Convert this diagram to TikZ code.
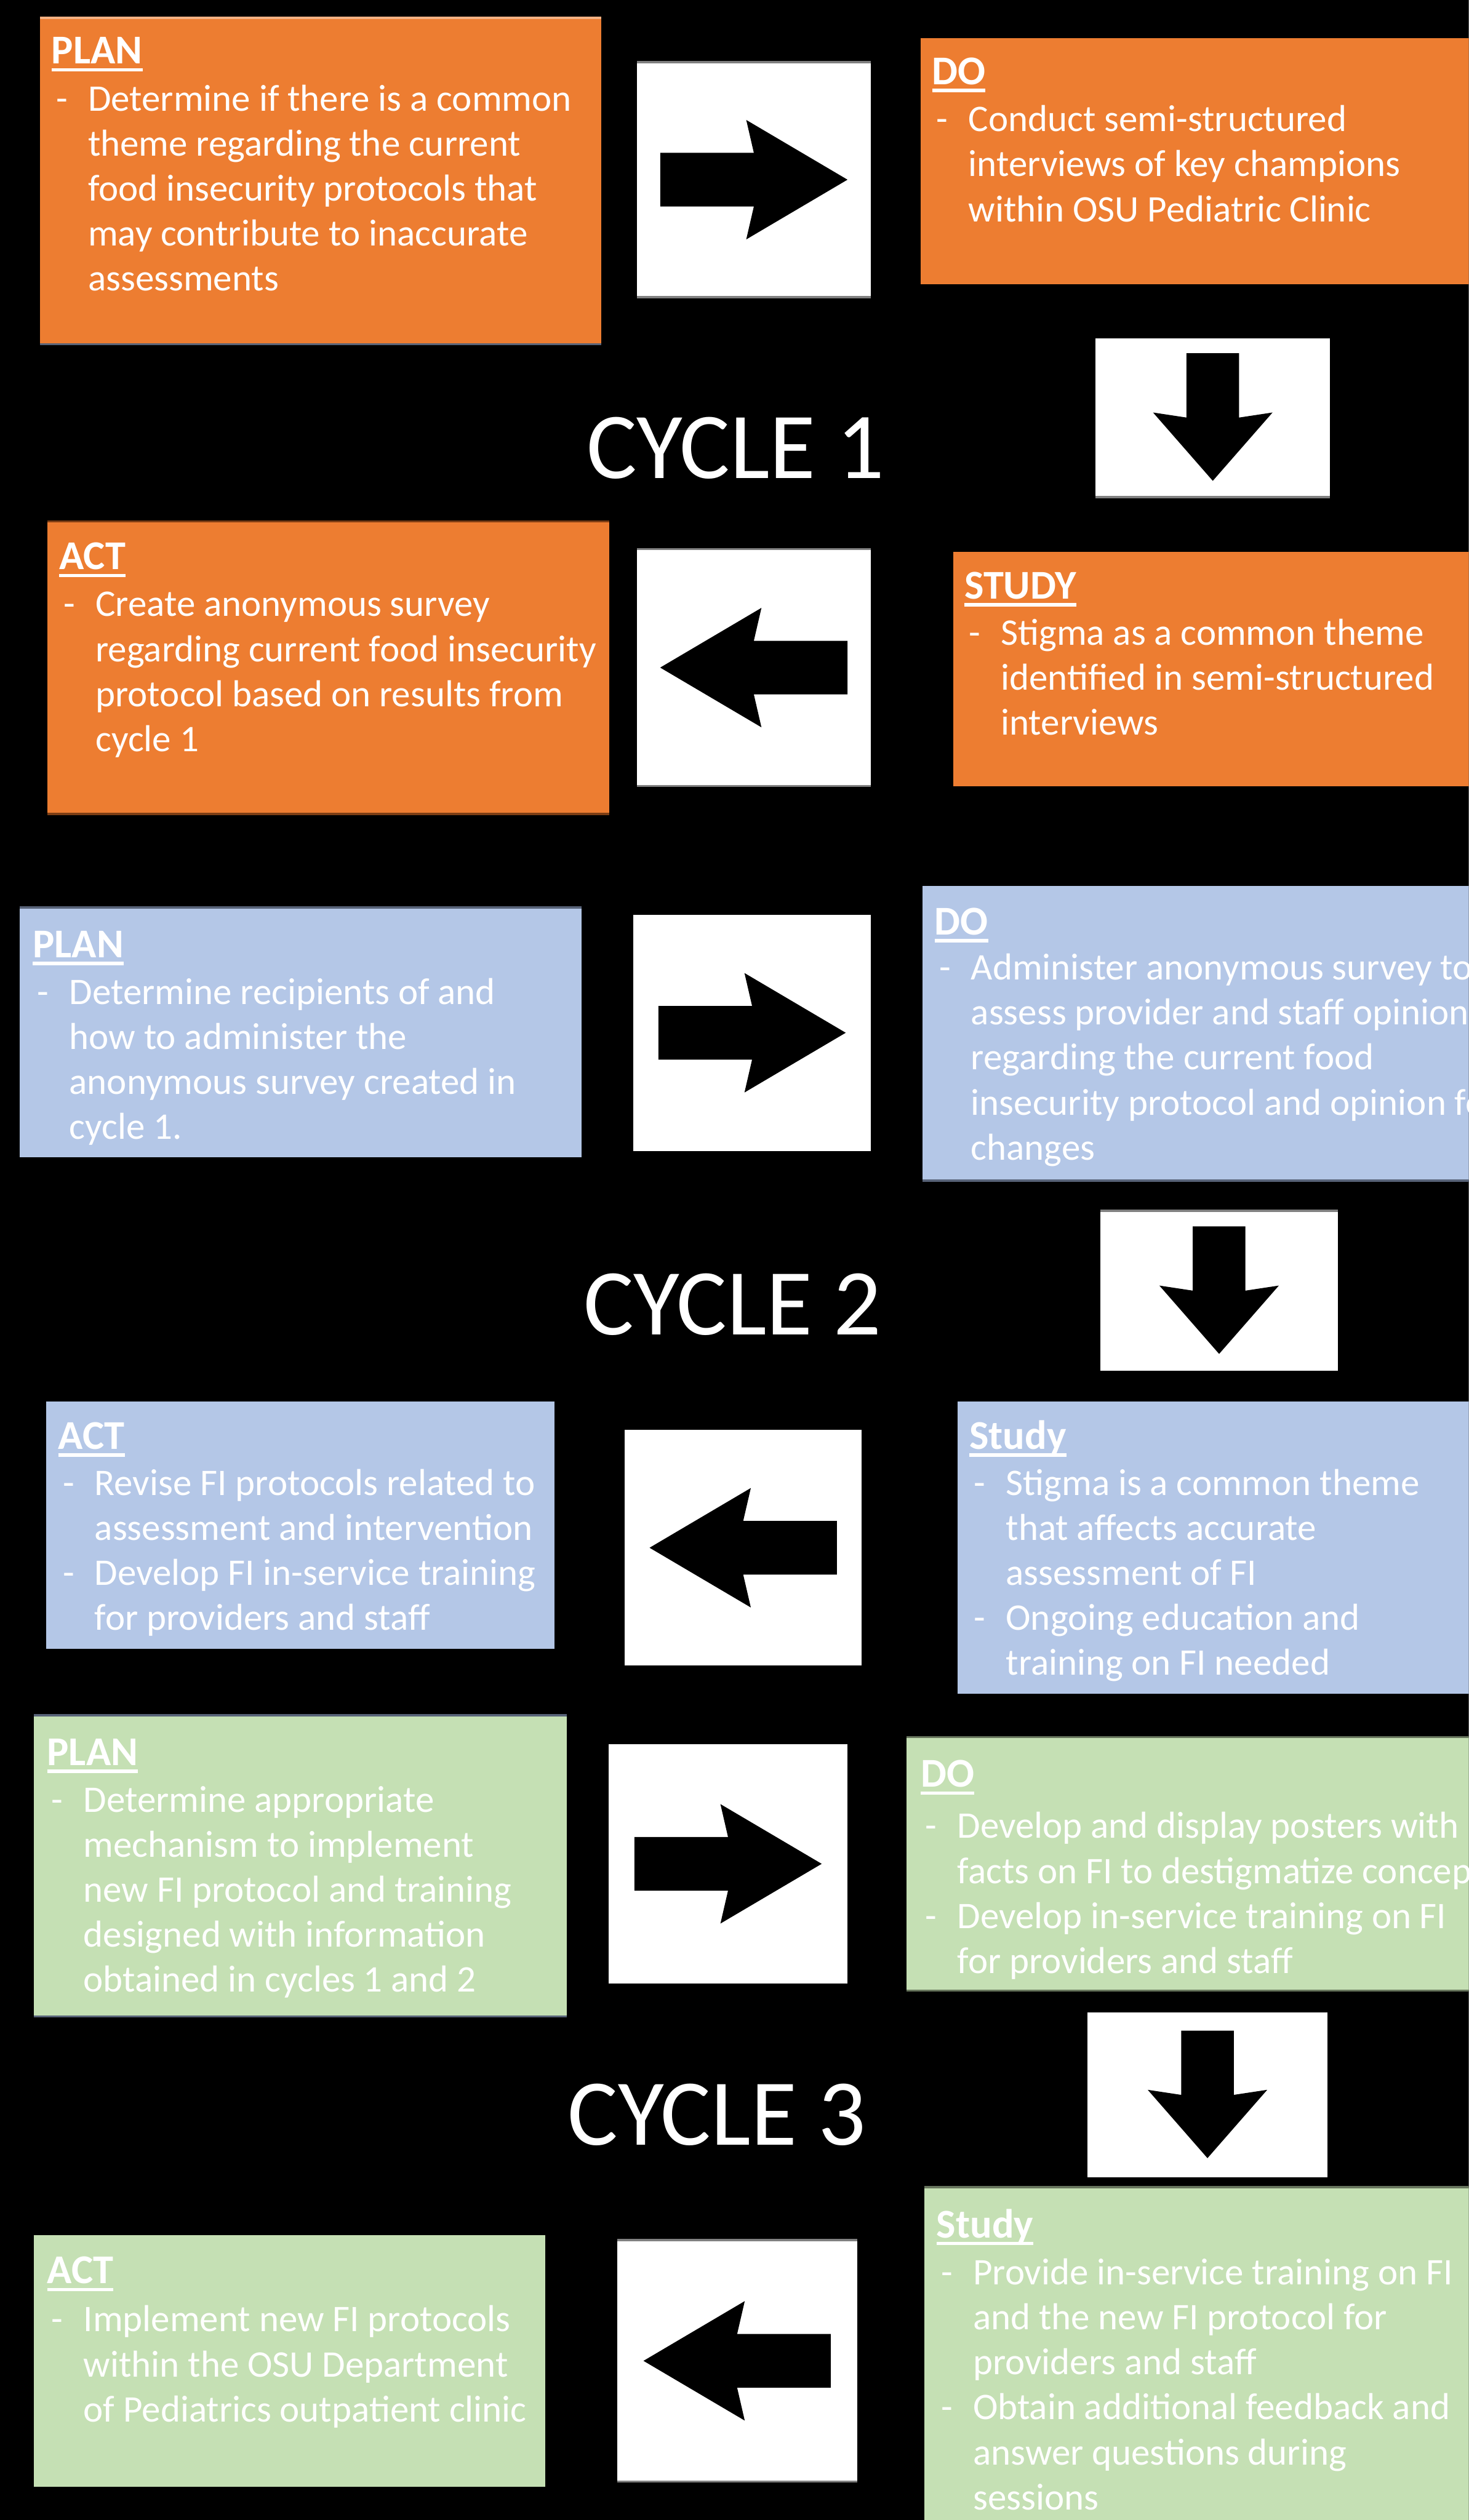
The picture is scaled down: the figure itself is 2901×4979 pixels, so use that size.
\documentclass[tikz,border=0pt]{standalone}
\usepackage{fontspec}
\setmainfont{Carlito}
\usepackage{xcolor}

\definecolor{pdsaorange}{RGB}{237,125,49}
\definecolor{pdsablue}{RGB}{180,199,231}
\definecolor{pdsagreen}{RGB}{197,224,180}
\definecolor{edgegray}{RGB}{128,128,128}
\definecolor{edgeslate}{RGB}{88,99,120}
\definecolor{edgebrown}{RGB}{125,62,20}
\definecolor{edgepeach}{RGB}{244,177,131}
\definecolor{edgemoss}{RGB}{104,118,94}

% title of a stage, underlined, with a tall strut so the node top is fixed
\newcommand{\boxtitle}[1]{\rule{0pt}{10mm}\setbox0\hbox{\fontsize{23}{25.3}\selectfont\bfseries #1}\rlap{\rule[-1.5mm]{\wd0}{0.65mm}}\box0}
\newcommand{\itm}{\hspace*{0.9mm}\makebox[6.3mm][l]{-}}
\newcommand{\cnt}{\hspace*{7.2mm}}

\begin{document}
\begin{tikzpicture}[x=0.1mm, y=-0.1mm,
    stagebox/.style={draw=none, inner sep=0pt, outer sep=0pt, anchor=north west},
    orangebox/.style={stagebox, fill=pdsaorange},
    bluebox/.style={stagebox, fill=pdsablue},
    greenbox/.style={stagebox, fill=pdsagreen},
    arrowbox/.style={stagebox, fill=white},
    boxtext/.style={anchor=north west, inner sep=0pt, outer sep=0pt, align=left,
        text=white, font=\fontsize{21.1}{25.3}\selectfont},
    cyclelabel/.style={anchor=base, inner sep=0pt, text=white,
        font=\fontsize{53}{60}\selectfont},
    edgeline/.style={line width=0.45mm},
    harrow/.pic={\fill[black] (-185,-53) -- (0,-53) -- (-15,-118) -- (185,0)
        -- (-15,118) -- (0,53) -- (-185,53) -- cycle;},
    varrow/.pic={\fill[black] (-52,-127) -- (52,-127) -- (52,0) -- (118,-10)
        -- (0,125) -- (-118,-10) -- (-52,0) -- cycle;}]

    \useasboundingbox (0,0) rectangle (2901,4979);
    \clip (0,0) rectangle (2901,4979);
    \fill[black] (0,0) rectangle (2901,4979);

    % Cycle 1
    \node[orangebox, minimum width=110.9mm, minimum height=64.5mm] (plan1) at (79,35) {};
    \node[arrowbox, minimum width=46.2mm, minimum height=46.4mm] (arr1) at (1258,123) {};
    \node[orangebox, minimum width=108.2mm, minimum height=48.6mm] (do1) at (1819,75) {};
    \node[arrowbox, minimum width=46.3mm, minimum height=31.4mm] (arrd1) at (2164,668) {};
    \node[orangebox, minimum width=111.0mm, minimum height=57.8mm] (act1) at (94,1030) {};
    \node[arrowbox, minimum width=46.2mm, minimum height=46.8mm] (arrl1) at (1258,1085) {};
    \node[orangebox, minimum width=101.8mm, minimum height=46.3mm] (study1) at (1883,1090) {};
    \node[cyclelabel] (cycle1) at (1453,945) {CYCLE 1};

    \draw[edgeline, edgepeach] (plan1.north west) -- (plan1.north east);
    \draw[edgeline, edgeslate] (plan1.south west) -- (plan1.south east);
    \draw[edgeline, edgegray] (arr1.north west) -- (arr1.north east);
    \draw[edgeline, edgegray] (arr1.south west) -- (arr1.south east);
    \draw[edgeline, edgegray] (arrd1.south west) -- (arrd1.south east);
    \draw[edgeline, edgebrown] (act1.north west) -- (act1.north east);
    \draw[edgeline, edgebrown] (act1.south west) -- (act1.south east);
    \draw[edgeline, edgegray] (arrl1.north west) -- (arrl1.north east);
    \draw[edgeline, edgegray] (arrl1.south west) -- (arrl1.south east);

    \pic at (arr1.center) {harrow};
    \pic at (arrd1.center) {varrow};
    \pic[rotate=180] at (arrl1.center) {harrow};

    \node[boxtext] (plan1t) at ([shift={(23,-9)}]plan1.north west) {\boxtitle{PLAN}\\[0.4mm]
        \itm Determine if there is a common\\
        \cnt theme regarding the current\\
        \cnt food insecurity protocols that\\
        \cnt may contribute to inaccurate\\
        \cnt assessments};
    \node[boxtext] (do1t) at ([shift={(22,-8)}]do1.north west) {\boxtitle{DO}\\[0.4mm]
        \itm Conduct semi-structured\\
        \cnt interviews of key champions\\
        \cnt within OSU Pediatric Clinic};
    \node[boxtext] (act1t) at ([shift={(23,-5)}]act1.north west) {\boxtitle{ACT}\\[0.4mm]
        \itm Create anonymous survey\\
        \cnt regarding current food insecurity\\
        \cnt protocol based on results from\\
        \cnt cycle 1};
    \node[boxtext] (study1t) at ([shift={(22,-7)}]study1.north west) {\boxtitle{STUDY}\\[0.2mm]
        \itm Stigma as a common theme\\
        \cnt identified in semi-structured\\
        \cnt interviews};

    % Cycle 2
    \node[bluebox, minimum width=111.0mm, minimum height=49.4mm] (plan2) at (39,1793) {};
    \node[arrowbox, minimum width=46.9mm, minimum height=46.7mm] (arr2) at (1251,1807) {};
    \node[bluebox, minimum width=107.9mm, minimum height=58.2mm] (do2) at (1822,1751) {};
    \node[arrowbox, minimum width=47.0mm, minimum height=31.6mm] (arrd2) at (2173,2392) {};
    \node[bluebox, minimum width=100.4mm, minimum height=48.9mm] (act2) at (91,2769) {};
    \node[arrowbox, minimum width=46.8mm, minimum height=46.6mm] (arrl2) at (1234,2825) {};
    \node[bluebox, minimum width=101.0mm, minimum height=57.7mm] (study2) at (1891,2769) {};
    \node[cyclelabel] (cycle2) at (1447,2637) {CYCLE 2};

    \draw[edgeline, edgeslate] (plan2.north west) -- (plan2.north east);
    \draw[edgeline, edgeslate] (do2.south west) -- (do2.south east);
    \draw[edgeline, edgegray] (arrd2.north west) -- (arrd2.north east);

    \pic at (arr2.center) {harrow};
    \pic at (arrd2.center) {varrow};
    \pic[rotate=180] at (arrl2.center) {harrow};

    \node[boxtext] (plan2t) at ([shift={(26,-1)}]plan2.north west) {\boxtitle{PLAN}\\[0.3mm]
        \itm Determine recipients of and\\
        \cnt how to administer the\\
        \cnt anonymous survey created in\\
        \cnt cycle 1.};
    \node[boxtext] (do2t) at ([shift={(24,-4)}]do2.north west) {\boxtitle{DO}\\
        \itm Administer anonymous survey to\\
        \cnt assess provider and staff opinion\\
        \cnt regarding the current food\\
        \cnt insecurity protocol and opinion for\\
        \cnt changes};
    \node[boxtext] (act2t) at ([shift={(24,-6)}]act2.north west) {\boxtitle{ACT}\\[0.2mm]
        \itm Revise FI protocols related to\\
        \cnt assessment and intervention\\
        \itm Develop FI in-service training\\
        \cnt for providers and staff};
    \node[boxtext] (study2t) at ([shift={(24,-6)}]study2.north west) {\boxtitle{Study}\\[0.2mm]
        \itm Stigma is a common theme\\
        \cnt that affects accurate\\
        \cnt assessment of FI\\
        \itm Ongoing education and\\
        \cnt training on FI needed};

    % Cycle 3
    \node[greenbox, minimum width=105.2mm, minimum height=59.5mm] (plan3) at (67,3389) {};
    \node[arrowbox, minimum width=47.2mm, minimum height=47.3mm] (arr3) at (1202,3446) {};
    \node[greenbox, minimum width=111.0mm, minimum height=50.1mm] (do3) at (1791,3432) {};
    \node[arrowbox, minimum width=47.4mm, minimum height=32.6mm] (arrd3) at (2148,3976) {};
    \node[greenbox, minimum width=101.0mm, minimum height=49.7mm] (act3) at (67,4416) {};
    \node[arrowbox, minimum width=47.4mm, minimum height=47.7mm] (arrl3) at (1219,4426) {};
    \node[greenbox, minimum width=107.5mm, minimum height=65.8mm] (study3) at (1826,4321) {};
    \node[cyclelabel] (cycle3) at (1416,4238) {CYCLE 3};

    \draw[edgeline, edgeslate] (plan3.north west) -- (plan3.north east);
    \draw[edgeline, edgeslate] (plan3.south west) -- (plan3.south east);
    \draw[edgeline, edgemoss] (do3.north west) -- (do3.north east);
    \draw[edgeline, edgemoss] (do3.south west) -- (do3.south east);
    \draw[edgeline, edgemoss] (study3.north west) -- (study3.north east);
    \draw[edgeline, edgegray] (arrl3.north west) -- (arrl3.north east);
    \draw[edgeline, edgegray] (arrl3.south west) -- (arrl3.south east);

    \pic at (arr3.center) {harrow};
    \pic at (arrd3.center) {varrow};
    \pic[rotate=180] at (arrl3.center) {harrow};

    \node[boxtext] (plan3t) at ([shift={(26,-1)}]plan3.north west) {\boxtitle{PLAN}\\[0.3mm]
        \itm Determine appropriate\\
        \cnt mechanism to implement\\
        \cnt new FI protocol and training\\
        \cnt designed with information\\
        \cnt obtained in cycles 1 and 2};
    \node[boxtext] (do3t) at ([shift={(28,-1)}]do3.north west) {\boxtitle{DO}\\[1.2mm]
        \itm Develop and display posters with\\
        \cnt facts on FI to destigmatize concept\\
        \itm Develop in-service training on FI\\
        \cnt for providers and staff};
    \node[boxtext] (act3t) at ([shift={(26,-4)}]act3.north west) {\boxtitle{ACT}\\[0.6mm]
        \itm Implement new FI protocols\\
        \cnt within the OSU Department\\
        \cnt of Pediatrics outpatient clinic};
    \node[boxtext] (study3t) at ([shift={(24,0)}]study3.north west) {\boxtitle{Study}\\[0.4mm]
        \itm Provide in-service training on FI\\
        \cnt and the new FI protocol for\\
        \cnt providers and staff\\
        \itm Obtain additional feedback and\\
        \cnt answer questions during\\
        \cnt sessions};
\end{tikzpicture}
\end{document}
